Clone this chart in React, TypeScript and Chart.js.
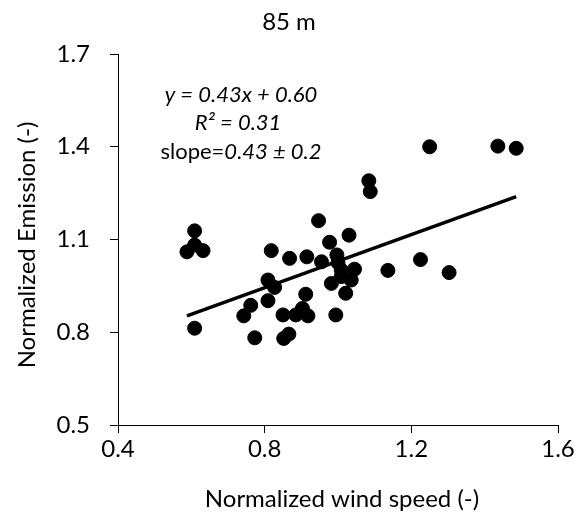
import React, { useEffect, useRef } from "react";
import { Chart, registerables } from "chart.js";

Chart.register(...registerables);

const windSpeed = [
  0.588, 0.609, 0.609, 0.632, 0.609, 0.743, 0.762, 0.773, 0.809, 0.809,
  0.818, 0.827, 0.85, 0.852, 0.866, 0.868, 0.885, 0.903, 0.912, 0.918,
  0.915, 0.947, 0.955, 0.977, 0.982, 0.994, 0.997, 1.009, 1.009, 1.021,
  1.03, 1.036, 1.045, 1.084, 1.088, 1.136, 1.225, 1.25, 1.303, 1.436,
  1.486, 1.0,
];
const emission = [
  1.06, 1.128, 1.082, 1.064, 0.813, 0.853, 0.887, 0.782, 0.969, 0.902,
  1.064, 0.945, 0.856, 0.78, 0.794, 1.039, 0.856, 0.877, 0.923, 0.853,
  1.044, 1.161, 1.028, 1.091, 0.958, 0.856, 1.05, 1.001, 0.98, 0.926,
  1.114, 0.969, 1.004, 1.29, 1.255, 1.0, 1.035, 1.4, 0.993, 1.402,
  1.395, 1.025,
];
const trendX = [0.588, 1.486];
const trendY = [0.853, 1.239];
const xTicks = [0.4, 0.8, 1.2, 1.6];
const yTicks = [0.5, 0.8, 1.1, 1.4, 1.7];

const titleText = "85 m";
const xTitle = "Normalized wind speed (-)";
const yTitle = "Normalized Emission (-)";
const eqLine1 = "y = 0.43x + 0.60";
const eqLine2 = "R² = 0.31";
const eqLine3a = "slope=";
const eqLine3b = "0.43 ± 0.2";

const FAMILY = "Lato, Carlito, Calibri, 'Noto Sans', sans-serif";
const FS = 24;
const EQ = 22;

const textPlugin = {
  id: "customText",
  afterDraw(chart: any) {
    const ctx = chart.ctx;
    ctx.save();
    ctx.fillStyle = "#000";
    ctx.textAlign = "center";
    ctx.textBaseline = "alphabetic";
    ctx.font = `${FS}px ${FAMILY}`;
    ctx.fillText(titleText, 289, 30);
    ctx.fillText(xTitle, 342, 507);
    ctx.save();
    ctx.translate(35, 245);
    ctx.rotate(-Math.PI / 2);
    ctx.fillText(yTitle, 0, 0);
    ctx.restore();

    ctx.font = `italic ${EQ}px ${FAMILY}`;
    ctx.fillText(eqLine1, 241, 102);
    ctx.fillText(eqLine2, 238, 130);
    ctx.font = `${EQ}px ${FAMILY}`;
    const wa = ctx.measureText(eqLine3a).width;
    ctx.font = `italic ${EQ}px ${FAMILY}`;
    const wb = ctx.measureText(eqLine3b).width;
    const start = 241 - (wa + wb) / 2;
    ctx.textAlign = "left";
    ctx.font = `${EQ}px ${FAMILY}`;
    ctx.fillText(eqLine3a, start, 159);
    ctx.font = `italic ${EQ}px ${FAMILY}`;
    ctx.fillText(eqLine3b, start + wa, 159);
    ctx.restore();
  },
};

export default function App() {
  const ref = useRef<HTMLCanvasElement>(null);
  useEffect(() => {
    if (!ref.current) return;
    const chart = new Chart(ref.current, {
      type: "scatter",
      data: {
        datasets: [
          {
            type: "line" as any,
            data: trendX.map((x, i) => ({ x, y: trendY[i] })),
            borderColor: "#000",
            borderWidth: 3.5,
            pointRadius: 0,
            fill: false,
            order: 2,
          } as any,
          {
            data: windSpeed.map((x, i) => ({ x, y: emission[i] })),
            backgroundColor: "#000",
            borderColor: "#000",
            borderWidth: 1,
            pointRadius: 7,
            order: 1,
          },
        ],
      },
      options: {
        animation: false,
        responsive: false,
        devicePixelRatio: 1,
        layout: { padding: { left: 0, right: 19, top: 54, bottom: 0 } },
        plugins: {
          legend: { display: false },
          title: { display: false },
          tooltip: { enabled: false },
        },
        scales: {
          x: {
            type: "linear",
            min: 0.4,
            max: 1.6,
            afterBuildTicks: (s: any) => {
              s.ticks = xTicks.map((v) => ({ value: v }));
            },
            afterFit: (s: any) => {
              s.height = 94;
            },
            ticks: {
              color: "#000",
              font: { family: FAMILY, size: FS },
              padding: 2,
              maxRotation: 0,
              callback: (v: any) => Number(v).toFixed(1),
            },
            grid: {
              drawOnChartArea: false,
              drawTicks: true,
              tickLength: 8,
              color: "#000",
              lineWidth: 1,
            },
            border: { display: true, color: "#000", width: 1 },
          },
          y: {
            type: "linear",
            min: 0.5,
            max: 1.7,
            afterBuildTicks: (s: any) => {
              s.ticks = yTicks.map((v) => ({ value: v }));
            },
            afterFit: (s: any) => {
              s.width = 118;
            },
            ticks: {
              color: "#000",
              font: { family: FAMILY, size: FS },
              padding: 20,
              callback: (v: any) => Number(v).toFixed(1),
            },
            grid: {
              drawOnChartArea: false,
              drawTicks: true,
              tickLength: 8,
              color: "#000",
              lineWidth: 1,
            },
            border: { display: true, color: "#000", width: 1 },
          },
        },
      },
      plugins: [textPlugin],
    });
    return () => chart.destroy();
  }, []);
  return (
    <div style={{ position: "fixed", left: 0, top: 0, width: 577, height: 519, background: "#fff" }}>
      <canvas ref={ref} width={577} height={519} style={{ width: 577, height: 519 }} />
    </div>
  );
}
